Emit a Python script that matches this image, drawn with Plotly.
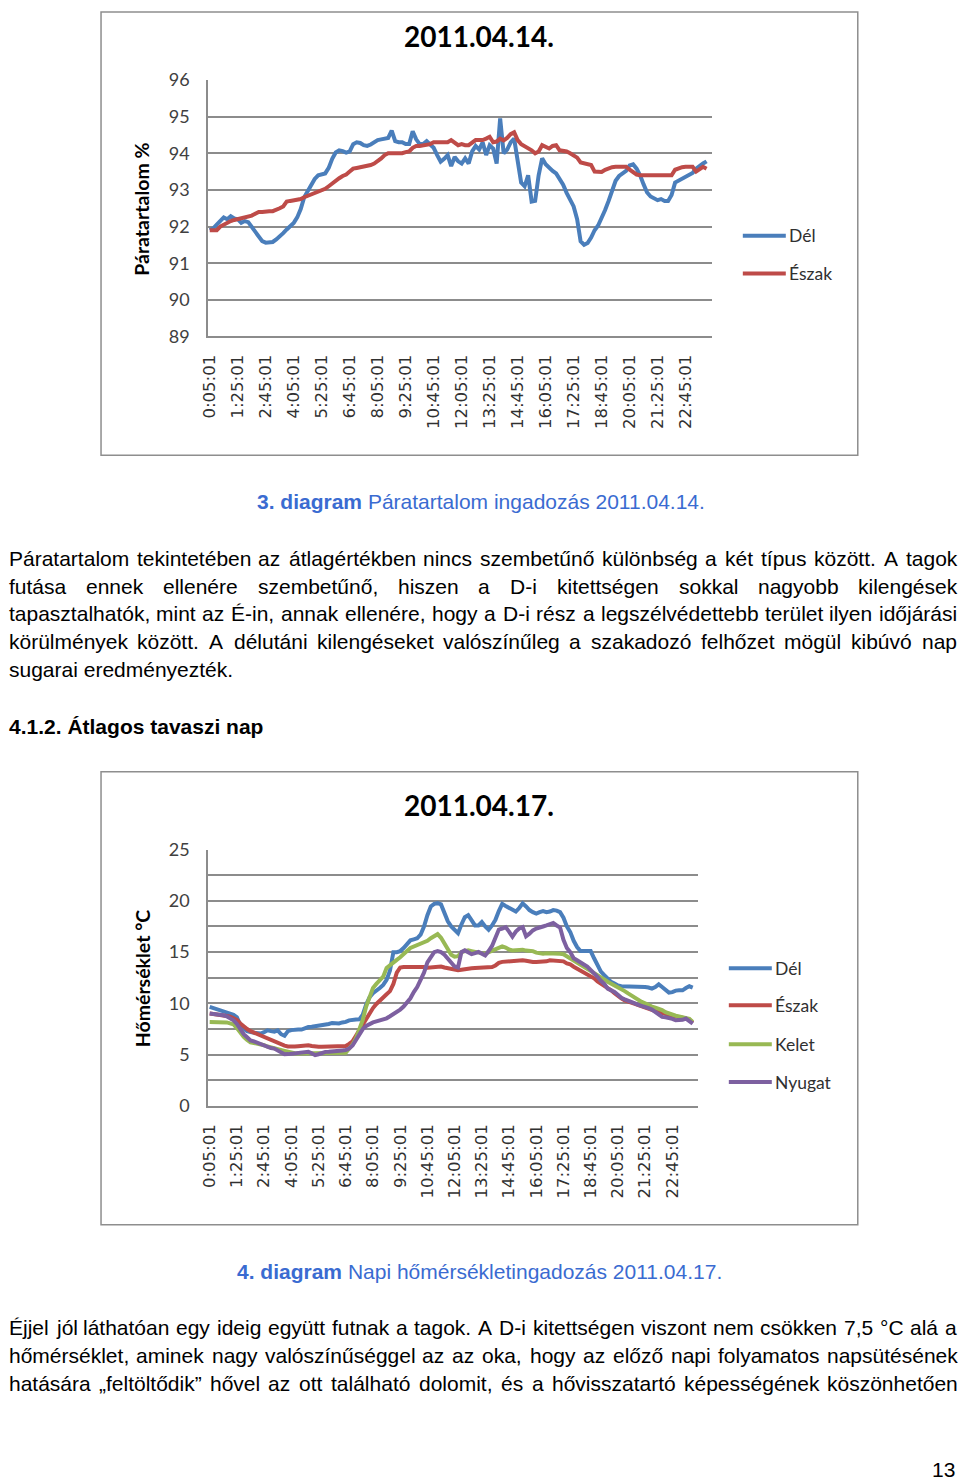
import plotly.graph_objects as go

# The photographed page shows the figure with the body's 8 px margin and a slight
# down-scaling; positions below are given in the reference picture's pixels and
# mapped to figure pixels so that they land where they are in the reference.
W, H = 960, 1480
SX, SY, DY, OFF = 0.992, 0.987, 2.0, 8.0
def px(x): return x / SX - OFF
def py(y): return (y - DY) / SY - OFF
def fx(x): return px(x) / W
def fy(y): return 1 - py(y) / H

# ---------------- data ----------------
TIMES = []
for k in range(144):
    t = 5 + 10 * k
    TIMES.append(f"{t // 60}:{t % 60:02d}:01")

TICK_LABELS = ["0:05:01", "1:25:01", "2:45:01", "4:05:01", "5:25:01", "6:45:01",
               "8:05:01", "9:25:01", "10:45:01", "12:05:01", "13:25:01", "14:45:01",
               "16:05:01", "17:25:01", "18:45:01", "20:05:01", "21:25:01", "22:45:01"]

# 2011.04.14. humidity (%)
HUM_DEL = [91.9, 91.95, 92.05, 92.15, 92.25, 92.2, 92.28, 92.22, 92.2, 92.1,
           92.15, 92.12, 92.0, 91.85, 91.72, 91.6, 91.56, 91.56, 91.58, 91.65,
           91.72, 91.82, 91.92, 92.0, 92.1, 92.25, 92.48, 92.8, 92.97, 93.15,
           93.3, 93.4, 93.43, 93.45, 93.6, 93.85, 94.02, 94.08, 94.06, 94.02,
           94.05, 94.25, 94.3, 94.28, 94.22, 94.2, 94.24, 94.3, 94.36, 94.38,
           94.4, 94.42, 94.62, 94.33, 94.3, 94.3, 94.25, 94.25, 94.6, 94.38,
           94.25, 94.25, 94.33, 94.25, 94.15, 93.95, 93.77, 93.85, 93.95, 93.65,
           93.9, 93.78, 93.72, 93.86, 93.72, 94.05, 94.2, 94.1, 94.3, 93.95,
           94.22, 94.13, 93.72, 94.95, 94.0, 94.1, 94.3, 94.4, 93.8, 93.2,
           93.1, 93.4, 92.68, 92.7, 93.4, 93.86, 93.7, 93.6, 93.52, 93.45,
           93.3, 93.14, 92.92, 92.72, 92.55, 92.2, 91.6, 91.5, 91.55, 91.7,
           91.9, 92.03, 92.22, 92.45, 92.7, 93.0, 93.25, 93.38, 93.45, 93.52,
           93.67, 93.7, 93.58, 93.4, 93.15, 92.93, 92.82, 92.76, 92.72, 92.75,
           92.7, 92.7, 92.86, 93.2, 93.25, 93.28, 93.36, 93.4, 93.46, 93.58,
           93.66, 93.72, 93.78]
HUM_ESZAK = [91.9, 91.9, 91.9, 92.0, 92.06, 92.1, 92.15, 92.18, 92.2, 92.22,
             92.25, 92.28, 92.3, 92.35, 92.4, 92.4, 92.42, 92.42, 92.42, 92.45,
             92.5, 92.55, 92.68, 92.7, 92.72, 92.72, 92.75, 92.8, 92.84, 92.87,
             92.9, 92.95, 93.0, 93.03, 93.1, 93.18, 93.27, 93.32, 93.38, 93.42,
             93.5, 93.58, 93.6, 93.62, 93.63, 93.65, 93.68, 93.72, 93.78, 93.86,
             93.95, 94.0, 94.0, 94.0, 94.0, 94.0, 94.03, 94.05, 94.15, 94.2,
             94.2, 94.22, 94.22, 94.25, 94.3, 94.3, 94.3, 94.3, 94.3, 94.36,
             94.3, 94.22, 94.25, 94.22, 94.22, 94.3, 94.36, 94.36, 94.36, 94.4,
             94.45, 94.3, 94.32, 94.4, 94.35, 94.42, 94.52, 94.57, 94.36, 94.25,
             94.2, 94.12, 94.08, 94.0, 94.05, 94.22, 94.18, 94.13, 94.2, 94.22,
             94.08, 94.07, 94.05, 94.0, 93.95, 93.88, 93.75, 93.72, 93.7, 93.68,
             93.5, 93.49, 93.49, 93.55, 93.6, 93.62, 93.63, 93.63, 93.63, 93.63,
             93.55, 93.49, 93.42, 93.4, 93.4, 93.4, 93.4, 93.4, 93.4, 93.4,
             93.4, 93.4, 93.4, 93.55, 93.6, 93.62, 93.63, 93.63, 93.63, 93.5,
             93.55, 93.63, 93.58]

# 2011.04.17. temperature (°C)
TEMP_DEL = [9.66, 9.55, 9.45, 9.35, 9.3, 9.15, 9.05, 8.9, 8.65, 7.9,
            7.55, 7.3, 7.2, 7.15, 7.1, 7.06, 7.2, 7.38, 7.3, 7.25,
            7.38, 7.0, 6.85, 7.3, 7.4, 7.45, 7.45, 7.45, 7.6, 7.7,
            7.72, 7.77, 7.8, 7.85, 7.9, 8.0, 8.1, 8.05, 8.05, 8.15,
            8.2, 8.35, 8.43, 8.43, 8.45, 8.9, 9.9, 10.6, 11.0, 11.2,
            11.5, 11.8, 12.3, 13.2, 15.0, 15.0, 15.1, 15.4, 15.85, 16.15,
            16.25, 16.35, 16.7, 17.5, 18.6, 19.45, 19.7, 19.77, 19.65, 18.9,
            18.0, 17.5, 17.1, 16.85, 17.7, 18.4, 18.6, 18.1, 17.6, 17.6,
            17.93, 17.5, 17.18, 17.6, 18.15, 19.0, 19.7, 19.5, 19.35, 19.1,
            18.95, 19.3, 19.75, 19.45, 19.1, 18.9, 18.75, 18.9, 19.0, 18.9,
            18.95, 19.1, 19.05, 18.9, 18.35, 17.5, 16.95, 16.1, 15.5, 15.11,
            15.11, 15.15, 15.1, 14.4, 13.7, 13.1, 12.75, 12.35, 12.1, 11.95,
            11.75, 11.67, 11.67, 11.67, 11.67, 11.67, 11.67, 11.67, 11.6, 11.55,
            11.44, 11.6, 11.86, 11.6, 11.3, 11.05, 11.1, 11.25, 11.28, 11.28,
            11.5, 11.67, 11.54]
TEMP_ESZAK = [9.01, 8.98, 8.95, 8.9, 8.85, 8.78, 8.7, 8.6, 8.4, 8.05,
              7.75, 7.5, 7.3, 7.15, 7.0, 6.9, 6.75, 6.55, 6.4, 6.25,
              6.1, 5.95, 5.88, 5.8, 5.77, 5.8, 5.83, 5.85, 5.9, 5.93,
              5.85, 5.77, 5.77, 5.77, 5.77, 5.8, 5.83, 5.83, 5.8, 5.77,
              5.85, 6.05, 6.3, 6.85, 7.4, 8.0, 8.55, 9.15, 9.55, 9.95,
              10.3, 10.6, 10.9, 11.2, 11.9, 13.0, 13.5, 13.55, 13.55, 13.55,
              13.58, 13.62, 13.6, 13.55, 13.48, 13.5, 13.55, 13.55, 13.6, 13.5,
              13.42, 13.35, 13.28, 13.23, 13.28, 13.35, 13.39, 13.42, 13.45, 13.48,
              13.5, 13.52, 13.55, 13.55, 13.7, 13.95, 14.05, 14.08, 14.12, 14.13,
              14.15, 14.18, 14.2, 14.15, 14.05, 14.04, 14.04, 14.04, 14.04, 14.1,
              14.2, 14.18, 14.15, 14.13, 14.1, 13.9, 13.8, 13.58, 13.4, 13.23,
              13.05, 12.85, 12.7, 12.45, 12.15, 11.95, 11.7, 11.5, 11.28, 11.0,
              10.7, 10.5, 10.3, 10.15, 10.05, 9.95, 9.83, 9.7, 9.55, 9.45,
              9.35, 9.25, 9.17, 9.05, 8.95, 8.85, 8.78, 8.72, 8.69, 8.6,
              8.5, 8.43, 8.1]
TEMP_KELET = [8.2, 8.2, 8.2, 8.2, 8.2, 8.15, 8.06, 7.95, 7.6, 7.1,
              6.74, 6.45, 6.2, 6.14, 6.1, 6.05, 5.93, 5.8, 5.7, 5.62,
              5.55, 5.45, 5.38, 5.3, 5.2, 5.15, 5.12, 5.12, 5.15, 5.18,
              5.15, 5.12, 5.12, 5.12, 5.12, 5.12, 5.12, 5.12, 5.12, 5.12,
              5.2, 5.6, 6.0, 6.6, 7.5, 8.4, 9.7, 10.6, 11.5, 11.9,
              12.25, 12.6, 13.45, 13.75, 14.0, 14.25, 14.5, 14.85, 15.1, 15.4,
              15.55, 15.63, 15.75, 15.9, 16.1, 16.35, 16.6, 16.75, 16.4, 15.8,
              15.2, 14.75, 14.55, 14.6, 15.0, 15.1, 15.17, 15.1, 15.0, 14.95,
              14.9, 14.85, 15.0, 15.2, 15.35, 15.45, 15.56, 15.45, 15.25, 15.17,
              15.2, 15.22, 15.24, 15.15, 15.12, 15.1, 14.95, 14.88, 14.85, 14.9,
              14.91, 14.9, 14.87, 14.85, 14.8, 14.6, 14.46, 14.2, 13.95, 13.75,
              13.6, 13.45, 13.2, 13.0, 12.8, 12.55, 12.35, 12.12, 11.95, 11.78,
              11.62, 11.4, 11.2, 10.98, 10.75, 10.55, 10.32, 10.15, 10.0, 9.82,
              9.7, 9.58, 9.5, 9.35, 9.15, 9.02, 8.92, 8.8, 8.74, 8.65,
              8.55, 8.5, 8.2]
TEMP_NYUGAT = [9.01, 8.98, 8.95, 8.9, 8.85, 8.75, 8.55, 8.35, 8.0, 7.45,
               7.0, 6.7, 6.4, 6.3, 6.17, 6.0, 5.85, 5.75, 5.65, 5.6,
               5.45, 5.25, 5.05, 5.06, 5.1, 5.12, 5.15, 5.2, 5.25, 5.28,
               5.15, 4.96, 5.05, 5.2, 5.28, 5.3, 5.35, 5.38, 5.4, 5.42,
               5.45, 5.6, 5.9, 6.5, 6.9, 7.5, 7.8, 8.0, 8.15, 8.25,
               8.35, 8.45, 8.55, 8.75, 8.95, 9.1, 9.4, 9.7, 10.05, 10.5,
               11.1, 11.6, 12.3, 13.0, 14.0, 14.5, 15.0, 15.1, 15.0, 14.75,
               14.4, 14.04, 13.6, 13.5, 15.0, 15.17, 15.0, 14.8, 14.9, 15.01,
               14.85, 14.68, 15.1, 15.6, 16.4, 17.2, 17.3, 17.44, 17.0, 16.5,
               17.0, 17.3, 17.44, 16.55, 16.8, 17.12, 17.3, 17.44, 17.5, 17.6,
               17.7, 17.83, 17.6, 17.4, 16.2, 15.4, 15.0, 14.4, 14.2, 14.04,
               13.8, 13.6, 13.3, 12.9, 12.6, 12.2, 11.9, 11.44, 11.3, 11.12,
               10.85, 10.55, 10.4, 10.3, 10.14, 10.0, 9.85, 9.78, 9.66, 9.55,
               9.4, 9.17, 8.95, 8.69, 8.65, 8.62, 8.5, 8.36, 8.36, 8.4,
               8.52, 8.3, 8.04]

C_DEL, C_ESZAK, C_KELET, C_NYUGAT = "#4A7EBB", "#BE4B48", "#98B954", "#7D60A0"
GRID = "#8C8C8C"
LW = 4

fig = go.Figure()
def add(y, name, color, xa, ya):
    fig.add_trace(go.Scatter(x=TIMES[:len(y)], y=y, name=name, mode="lines",
                             line=dict(color=color, width=LW), xaxis=xa, yaxis=ya,
                             showlegend=False))

add(HUM_DEL, "Dél", C_DEL, "x", "y")
add(HUM_ESZAK, "Észak", C_ESZAK, "x", "y")
add(TEMP_DEL, "Dél", C_DEL, "x2", "y2")
add(TEMP_ESZAK, "Észak", C_ESZAK, "x2", "y2")
add(TEMP_KELET, "Kelet", C_KELET, "x2", "y2")
add(TEMP_NYUGAT, "Nyugat", C_NYUGAT, "x2", "y2")

xcommon = dict(type="category", categoryorder="array", categoryarray=TIMES,
               range=[-0.5, len(TIMES) - 0.5], tickmode="array",
               tickvals=TICK_LABELS, ticktext=TICK_LABELS, tickangle=-90,
               tickfont=dict(family="DejaVu Sans", size=16.5, color="#303030"),
               showgrid=False, showline=True, linecolor=GRID, linewidth=1.5,
               ticks="", ticklabelstandoff=10, zeroline=False, fixedrange=True)
ycommon = dict(showgrid=True, gridcolor=GRID, gridwidth=1.5, showline=True,
               linecolor=GRID, linewidth=1.5, ticks="", zeroline=False,
               tickfont=dict(family="Lato", size=18, color="#404040"),
               ticklabelstandoff=13)

fig.update_layout(
    width=W, height=H, margin=dict(l=0, r=0, t=0, b=0),
    paper_bgcolor="white", plot_bgcolor="white",
    xaxis=dict(domain=[fx(208), fx(712)], anchor="y", **xcommon),
    yaxis=dict(domain=[fy(335), fy(78)], anchor="x", range=[89, 96], dtick=1, **ycommon),
    xaxis2=dict(domain=[fx(208), fx(698)], anchor="y2", **xcommon),
    yaxis2=dict(domain=[fy(1106), fy(849)], anchor="x2", range=[0, 25], dtick=5,
                minor=dict(dtick=2.5, showgrid=True, gridcolor=GRID, gridwidth=1.5),
                **ycommon),
)

shapes = []
anns = []
for y0, y1 in [(10, 454), (771, 1225)]:
    shapes.append(dict(type="rect", xref="paper", yref="paper", x0=fx(101), x1=fx(858),
                       y0=fy(y1), y1=fy(y0), line=dict(color="#8E8E8E", width=1.5)))

def text(t, x, y, size, xanchor="left", color="black", family="Liberation Sans", angle=0):
    anns.append(dict(text=t, x=fx(x), y=fy(y), xref="paper", yref="paper",
                     xanchor=xanchor, yanchor="middle", showarrow=False, textangle=angle,
                     font=dict(family=family, size=size, color=color), borderpad=0))

text("<b>2011.04.14.</b>", 479, 34, 28, "center", family="Lato")
text("<b>2011.04.17.</b>", 479, 804, 28, "center", family="Lato")
text("<b>Páratartalom %</b>", 142, 208, 19.5, "center", family="Lato", angle=-90)
text("<b>Hőmérséklet °C</b>", 142, 978, 19.5, "center", family="Lato", angle=-90)

def legend_item(name, color, x0, y):
    shapes.append(dict(type="line", xref="paper", yref="paper", x0=fx(x0), x1=fx(x0 + 43),
                       y0=fy(y), y1=fy(y), line=dict(color=color, width=LW)))
    text(name, x0 + 45, y, 17.5, "left", color="#303030", family="Lato")

legend_item("Dél", C_DEL, 743, 234)
legend_item("Észak", C_ESZAK, 743, 272)
legend_item("Dél", C_DEL, 729, 968)
legend_item("Észak", C_ESZAK, 729, 1005)
legend_item("Kelet", C_KELET, 729, 1044)
legend_item("Nyugat", C_NYUGAT, 729, 1082)

CAP = "#3A6BD1"
BS = 21
text("<b>3. diagram</b> Páratartalom ingadozás 2011.04.14.", 481, 500, BS, "center", color=CAP)
text("<b>4. diagram</b> Napi hőmérsékletingadozás 2011.04.17.", 480, 1272, BS, "center", color=CAP)

# justified body text (Arial / Liberation Sans advance widths, 1/1000 em)
AW = {' ': 278, 'a': 556, 'b': 556, 'c': 500, 'd': 556, 'e': 556, 'f': 278, 'g': 556,
      'h': 556, 'i': 222, 'j': 222, 'k': 500, 'l': 222, 'm': 833, 'n': 556, 'o': 556,
      'p': 556, 'q': 556, 'r': 333, 's': 500, 't': 278, 'u': 556, 'v': 500, 'w': 722,
      'x': 500, 'y': 500, 'z': 500, 'á': 556, 'é': 556, 'í': 278, 'ó': 556, 'ö': 556,
      'ő': 556, 'ú': 556, 'ü': 556, 'ű': 556, 'A': 667, 'D': 722, 'É': 667, 'P': 667,
      'C': 722, 'Á': 667, '.': 278, ',': 278, '-': 333, '°': 400, '„': 333, '”': 333,
      ':': 278}
def tw(s):
    # width in reference pixels
    return sum(AW.get(c, 556) for c in s) * BS / 1000 * SX

LEFT, RIGHT = 8.0, 956
def justified(line, y, left=LEFT, right=RIGHT):
    ws = line.split(" ")
    total = sum(tw(w) for w in ws)
    gap = (right - left - total) / (len(ws) - 1)
    x = left
    for w in ws:
        text(w, x, y, BS)
        x += tw(w) + gap

justified("Páratartalom tekintetében az átlagértékben nincs szembetűnő különbség a két típus között. A tagok", 557)
justified("futása ennek ellenére szembetűnő, hiszen a D-i kitettségen sokkal nagyobb kilengések", 585)
justified("tapasztalhatók, mint az É-in, annak ellenére, hogy a D-i rész a legszélvédettebb terület ilyen időjárási", 613)
justified("körülmények között. A délutáni kilengéseket valószínűleg a szakadozó felhőzet mögül kibúvó nap", 641)
text("sugarai eredményezték.", LEFT, 669, BS)
text("<b>4.1.2. Átlagos tavaszi nap</b>", LEFT, 726, BS)
justified("Éjjel jól láthatóan egy ideig együtt futnak a tagok. A D-i kitettségen viszont nem csökken 7,5 °C alá a", 1328)
justified("hőmérséklet, aminek nagy valószínűséggel az az oka, hogy az előző napi folyamatos napsütésének", 1356)
justified("hatására „feltöltődik” hővel az ott található dolomit, és a hővisszatartó képességének köszönhetően", 1384)
text("13", 956, 1470, BS, "right")

fig.update_layout(shapes=shapes, annotations=anns)
fig.write_html("out.html")
